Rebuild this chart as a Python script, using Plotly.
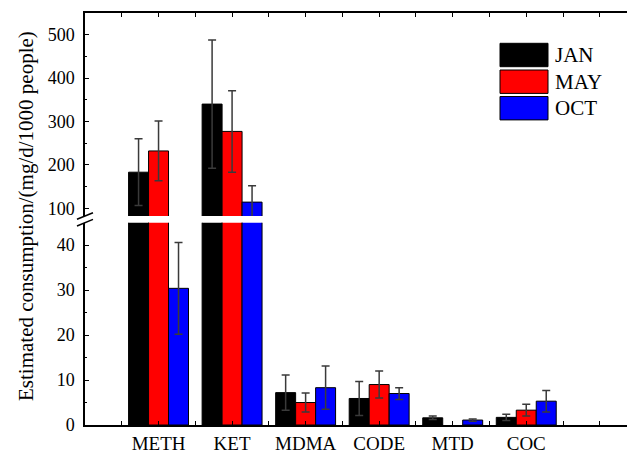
import plotly.graph_objects as go

categories = ["METH", "KET", "MDMA", "CODE", "MTD", "COC"]
series_names = ["JAN", "MAY", "OCT"]
jan = [183, 340, 7.2, 5.9, 1.6, 1.7]
jan_err = [77, 148, 3.9, 3.8, 0.4, 0.7]
may = [232, 277, 5.0, 9.0, None, 3.3]
may_err = [69, 94, 2.1, 3.0, 0, 1.3]
oct_ = [30.4, 114, 8.3, 7.0, 1.1, 5.3]
oct_err = [10.2, 38, 4.8, 1.3, 0.25, 2.4]
colors = ["#000000", "#ff0000", "#0000ff"]

lower_ticks = [0, 10, 20, 30, 40]
upper_ticks = [100, 200, 300, 400, 500]

W, H = 627, 453
ML, MR, MT, MB = 85, 0, 13, 28
PW, PH = W - ML - MR, H - MT - MB

def py(p):  # pixel y -> paper
    return (H - MB - p) / PH

def px(p):  # pixel x -> paper
    return (p - ML) / PW

xpos = list(range(len(categories)))
FONT = "Liberation Serif, Times New Roman, serif"

fig = go.Figure()
data = [(jan, jan_err), (may, may_err), (oct_, oct_err)]
for (vals, errs), name, col in zip(data, series_names, colors):
    for xa, ya in (("x", "y"), ("x2", "y2")):
        fig.add_trace(go.Bar(
            x=xpos, y=vals, name=name, xaxis=xa, yaxis=ya,
            marker=dict(color=col, line=dict(color="#000000", width=1)),
            error_y=dict(type="data", array=errs, visible=True,
                         color="#3a3a3a", thickness=1.5, width=4),
            showlegend=False,
        ))

half = [i / 2 for i in range(-1, 14)]
ticktext = [categories[int(v)] if v == int(v) and 0 <= v < len(categories) else "" for v in half]

axis_common = dict(showline=True, linecolor="#000000", linewidth=1.5, mirror=False,
                   ticks="inside", tickcolor="#000000", ticklen=4, tickwidth=1,
                   showgrid=False, zeroline=False, automargin=False)

fig.update_layout(
    width=W, height=H,
    margin=dict(l=ML, r=MR, t=MT, b=MB, autoexpand=False),
    paper_bgcolor="white", plot_bgcolor="white",
    barmode="group", bargap=0.185, bargroupgap=0,
    font=dict(family=FONT, color="#000000"),
    xaxis=dict(**axis_common, anchor="y", range=[-1, 6.37],
               tickmode="array", tickvals=half, ticktext=ticktext,
               tickfont=dict(size=19), ticklabelstandoff=0, domain=[0, 1]),
    xaxis2=dict(**axis_common, anchor="y2", side="top", matches="x", range=[-1, 6.37],
                tickmode="array", tickvals=half, showticklabels=False),
    yaxis=dict(**axis_common, anchor="x", domain=[0, py(222.7)], range=[0, 45],
               tickmode="array", tickvals=lower_ticks, tickfont=dict(size=18),
               ticklabelstandoff=5,
               minor=dict(tickvals=[5, 15, 25, 35], ticks="inside", ticklen=2,
                          tickcolor="#000000")),
    yaxis2=dict(**axis_common, anchor="x2", domain=[py(216), 1], range=[82, 550],
                tickmode="array", tickvals=upper_ticks, tickfont=dict(size=18),
                ticklabelstandoff=5,
                minor=dict(tickvals=[150, 250, 350, 450], ticks="inside", ticklen=2,
                           tickcolor="#000000")),
    showlegend=False,
)

# axis title spanning both panels
fig.add_annotation(text="Estimated consumption/(mg/d/1000 people)",
                   xref="paper", yref="paper", x=px(26), y=py(216),
                   textangle=-90, showarrow=False, xanchor="center", yanchor="middle",
                   font=dict(size=21, family=FONT))

# axis break marks
for y0, y1 in ((219.3, 212.7), (226.0, 219.4)):
    fig.add_shape(type="line", xref="paper", yref="paper",
                  x0=px(77), y0=py(y0), x1=px(93), y1=py(y1),
                  line=dict(color="#000000", width=1.5))

# custom legend
box_tops = [43.3, 70.0, 96.5]
for name, col, top in zip(series_names, colors, box_tops):
    fig.add_shape(type="rect", xref="paper", yref="paper",
                  x0=px(500), x1=px(548), y0=py(top + 23.4), y1=py(top),
                  fillcolor=col, line=dict(color="#000000", width=1))
    fig.add_annotation(text=name, xref="paper", yref="paper",
                       x=px(553), y=py(top + 11.7), xanchor="left", yanchor="middle",
                       showarrow=False, font=dict(size=21, family=FONT))

fig.write_html("out.html", config={"displayModeBar": False},
               post_script="document.body.style.margin='0';document.body.style.overflow='hidden';")
